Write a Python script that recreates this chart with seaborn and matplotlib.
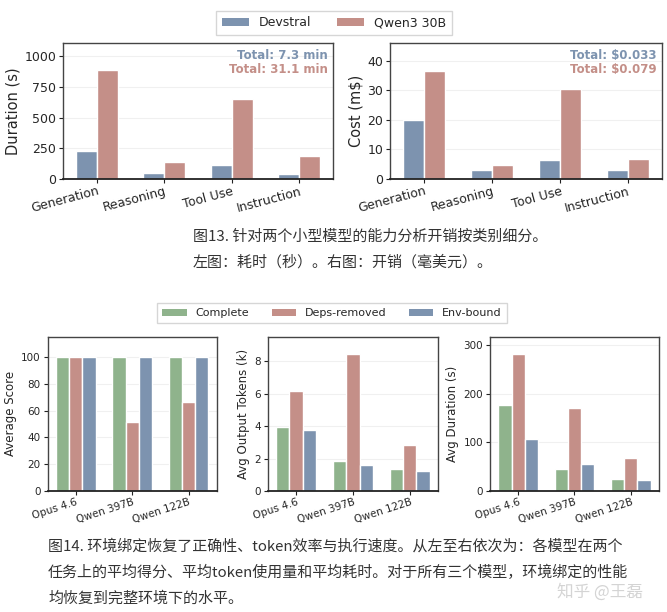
import pandas as pd
import numpy as np
import matplotlib.pyplot as plt
import seaborn as sns
from matplotlib.patches import Patch

sns.set_style('whitegrid')
plt.rcParams['font.family'] = ['DejaVu Sans', 'Noto Sans CJK SC']

# 图13 数据：两个小模型按类别的耗时与开销
categories = ['Generation', 'Reasoning', 'Tool Use', 'Instruction']
small_models = ['Devstral', 'Qwen3 30B']
duration_devstral = [230, 52, 112, 44]
duration_qwen3 = [888, 138, 655, 185]
cost_devstral = [20.0, 3.2, 6.5, 3.0]
cost_qwen3 = [36.4, 4.7, 30.3, 6.9]
duration_totals = ['Total: 7.3 min', 'Total: 31.1 min']
cost_totals = ['Total: $0.033', 'Total: $0.079']

# 图14 数据：三种环境设置下的表现
models = ['Opus 4.6', 'Qwen 397B', 'Qwen 122B']
settings = ['Complete', 'Deps-removed', 'Env-bound']
score_complete = [100, 100, 100]
score_deps = [100, 51.5, 66.3]
score_env = [100, 100, 100]
tokens_complete = [3.94, 1.86, 1.34]
tokens_deps = [6.17, 8.45, 2.83]
tokens_env = [3.75, 1.59, 1.26]
dur_complete = [177, 45, 25]
dur_deps = [281, 170, 68]
dur_env = [107, 55, 22]

caption13 = ['图13. 针对两个小型模型的能力分析开销按类别细分。',
             '左图：耗时（秒）。右图：开销（毫美元）。']
caption14 = ['图14. 环境绑定恢复了正确性、token效率与执行速度。从左至右依次为：各模型在两个',
             '任务上的平均得分、平均token使用量和平均耗时。对于所有三个模型，环境绑定的性能',
             '均恢复到完整环境下的水平。']

c_blue = '#7d93af'
c_red = '#c48f88'
c_green = '#8fb38c'


def long_df(cats, names, series, xname):
    rows = []
    for name, vals in zip(names, series):
        for c, v in zip(cats, vals):
            rows.append({xname: c, 'hue': name, 'value': v})
    return pd.DataFrame(rows)


def style_ax(ax):
    ax.grid(axis='y', color='#f0f0f0', linewidth=0.8)
    ax.grid(axis='x', visible=False)
    for s in ['left', 'right', 'top']:
        ax.spines[s].set_color('#444444')
        ax.spines[s].set_linewidth(1.0)
    ax.spines['bottom'].set_color('#222222')
    ax.spines['bottom'].set_linewidth(1.3)
    ax.tick_params(axis='x', bottom=True, length=3, color='#222222', pad=1)
    ax.tick_params(axis='y', left=True, length=3, color='#222222', pad=2)
    ax.set_xlabel('')
    ax.set_axisbelow(True)


fig = plt.figure(figsize=(6.67, 6.12), dpi=100)

# ---- 图13 ----
pal13 = {'Devstral': c_blue, 'Qwen3 30B': c_red}
df_dur = long_df(categories, small_models, [duration_devstral, duration_qwen3], 'cat')
df_cost = long_df(categories, small_models, [cost_devstral, cost_qwen3], 'cat')

ax1 = fig.add_axes([0.0945, 0.7075, 0.4048, 0.2222])
ax2 = fig.add_axes([0.5847, 0.7075, 0.4078, 0.2222])

for ax, df, ylab, ylim, ticks, totals in [
        (ax1, df_dur, 'Duration (s)', 1110, [0, 250, 500, 750, 1000], duration_totals),
        (ax2, df_cost, 'Cost (m$)', 46, [0, 10, 20, 30, 40], cost_totals)]:
    sns.barplot(data=df, x='cat', y='value', hue='hue', palette=pal13, width=0.62,
                saturation=1, edgecolor='white', linewidth=1, ax=ax, legend=False)
    ax.set_ylim(0, ylim)
    ax.set_yticks(ticks)
    ax.set_ylabel(ylab, fontsize=10.5, labelpad=3)
    style_ax(ax)
    ax.tick_params(axis='both', labelsize=9)
    ax.set_xticks(range(len(categories)))
    ax.set_xticklabels(categories, rotation=15, ha='right', rotation_mode='anchor')
    ax.text(0.98, 0.905, totals[0], transform=ax.transAxes, ha='right', va='center',
            fontsize=8.5, fontweight='bold', color=c_blue)
    ax.text(0.98, 0.807, totals[1], transform=ax.transAxes, ha='right', va='center',
            fontsize=8.5, fontweight='bold', color=c_red)

handles13 = [Patch(facecolor=pal13[m], edgecolor='none', label=m) for m in small_models]
fig.legend(handles=handles13, loc='center', bbox_to_anchor=(334 / 667, 1 - 23 / 612),
           ncol=2, fontsize=9, frameon=True, handlelength=2.2, handleheight=0.6,
           columnspacing=2.0, borderpad=0.45, edgecolor='#cccccc', fancybox=False)

# ---- 图14 ----
pal14 = {'Complete': c_green, 'Deps-removed': c_red, 'Env-bound': c_blue}
df_score = long_df(models, settings, [score_complete, score_deps, score_env], 'model')
df_tok = long_df(models, settings, [tokens_complete, tokens_deps, tokens_env], 'model')
df_avgdur = long_df(models, settings, [dur_complete, dur_deps, dur_env], 'model')

ax3 = fig.add_axes([0.0715, 0.1977, 0.2534, 0.2521])
ax4 = fig.add_axes([0.4013, 0.1977, 0.2558, 0.2521])
ax5 = fig.add_axes([0.7346, 0.1977, 0.2534, 0.2521])

for ax, df, ylab, ylim, ticks in [
        (ax3, df_score, 'Average Score', 115, [0, 20, 40, 60, 80, 100]),
        (ax4, df_tok, 'Avg Output Tokens (k)', 9.5, [0, 2, 4, 6, 8]),
        (ax5, df_avgdur, 'Avg Duration (s)', 317, [0, 100, 200, 300])]:
    sns.barplot(data=df, x='model', y='value', hue='hue', palette=pal14, width=0.7,
                saturation=1, edgecolor='white', linewidth=1, ax=ax, legend=False)
    ax.set_ylim(0, ylim)
    ax.set_yticks(ticks)
    ax.set_ylabel(ylab, fontsize=8.5, labelpad=3)
    style_ax(ax)
    ax.tick_params(axis='both', labelsize=7.5)
    ax.set_xticks(range(len(models)))
    ax.set_xticklabels(models, rotation=18, ha='right', rotation_mode='anchor')

handles14 = [Patch(facecolor=pal14[s], edgecolor='none', label=s) for s in settings]
fig.legend(handles=handles14, loc='center', bbox_to_anchor=(332 / 667, 1 - 313 / 612),
           ncol=3, fontsize=8, frameon=True, handlelength=2.2, handleheight=0.6,
           columnspacing=2.0, borderpad=0.45, edgecolor='#cccccc', fancybox=False)

# ---- 图注 ----
cap_font = ['Noto Sans CJK SC', 'DejaVu Sans']
for i, line in enumerate(caption13):
    fig.text(193 / 667, 1 - (237 + i * 25) / 612, line, fontsize=10.8, family=cap_font,
             color='#333333', ha='left', va='center')
for i, line in enumerate(caption14):
    fig.text(48 / 667, 1 - (546 + i * 26) / 612, line, fontsize=10.8, family=cap_font,
             color='#333333', ha='left', va='center')
# 水印稍微下移，避免压住第二行图注
fig.text(600 / 667, 1 - 592 / 612, '知乎 @王磊', fontsize=12, family=cap_font,
         color='#d4d4d4', ha='center', va='center')

plt.savefig('out.png', dpi=100)
plt.close()
